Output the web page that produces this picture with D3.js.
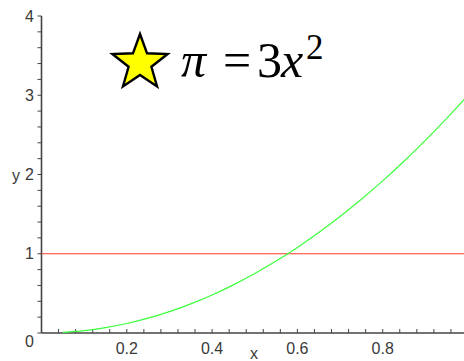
<!DOCTYPE html>
<html>
<head>
<meta charset="utf-8">
<script src="https://cdn.jsdelivr.net/npm/d3@7"></script>
<style>
  html, body { margin: 0; padding: 0; background: #fff; }
  svg { display: block; }
  .tick-label { font-family: "Liberation Sans", Arial, sans-serif; font-size: 16px; fill: #3a3a3a; }
  .eq { font-family: "Liberation Serif", "Times New Roman", serif; fill: #000; }
</style>
</head>
<body>
<svg id="chart" width="464" height="361"></svg>
<script>
// Curve y = 3x^2 sampled along x, plus the horizontal reference y = 1
const curveX = [0.05, 0.1, 0.15, 0.2, 0.25, 0.3, 0.35, 0.4, 0.45, 0.5, 0.55, 0.6, 0.65, 0.7, 0.75, 0.8, 0.85, 0.9, 0.95, 1.0];
const curveY = [0.0075, 0.03, 0.0675, 0.12, 0.1875, 0.27, 0.3675, 0.48, 0.6075, 0.75, 0.9075, 1.08, 1.2675, 1.47, 1.6875, 1.92, 2.1675, 2.43, 2.7075, 3.0];
const refLineY = [1];
const xTickLabels = [0.2, 0.4, 0.6, 0.8];
const yTickLabels = [0, 1, 2, 3, 4];

const svg = d3.select("#chart");
const x = d3.scaleLinear().domain([0, 1]).range([41.5, 468]);
const y = d3.scaleLinear().domain([0, 4]).range([333, 16]);

const axisColor = "#444";

// Y axis line with major/minor ticks on the left
const gy = svg.append("g");
gy.append("line").attr("x1", x(0)).attr("x2", x(0)).attr("y1", y(0)).attr("y2", y(4))
  .attr("stroke", axisColor).attr("stroke-width", 1.6);
const yMinor = d3.range(0, 4.0001, 0.2);
gy.selectAll("line.minor").data(yMinor).enter().append("line")
  .attr("x1", x(0) - 4).attr("x2", x(0))
  .attr("y1", d => y(d)).attr("y2", d => y(d))
  .attr("stroke", axisColor).attr("stroke-width", 1);
gy.selectAll("text").data(yTickLabels).enter().append("text")
  .attr("class", "tick-label")
  .attr("x", 34).attr("y", d => y(d) + (d === 0 ? 8 : 0))
  .attr("text-anchor", "end").attr("dominant-baseline", "central")
  .text(d => d);
svg.append("text").attr("class", "tick-label")
  .attr("x", 16).attr("y", y(2) + 1).attr("text-anchor", "middle")
  .attr("dominant-baseline", "central").text("y");

// X axis line with ticks pointing up
const gx = svg.append("g");
gx.append("line").attr("x1", x(0)).attr("x2", 464).attr("y1", y(0)).attr("y2", y(0))
  .attr("stroke", axisColor).attr("stroke-width", 1.6);
const xMinor = d3.range(0.04, 1.0001, 0.04);
gx.selectAll("line.minor").data(xMinor).enter().append("line")
  .attr("x1", d => x(d)).attr("x2", d => x(d))
  .attr("y1", y(0) - 4).attr("y2", y(0))
  .attr("stroke", axisColor).attr("stroke-width", 1);
gx.selectAll("text").data(xTickLabels).enter().append("text")
  .attr("class", "tick-label")
  .attr("x", d => x(d)).attr("y", 348)
  .attr("text-anchor", "middle").attr("dominant-baseline", "central")
  .text(d => d);
svg.append("text").attr("class", "tick-label")
  .attr("x", 254).attr("y", 353).attr("text-anchor", "middle")
  .attr("dominant-baseline", "central").text("x");

// Reference line y = 1
svg.selectAll("line.ref").data(refLineY).enter().append("line")
  .attr("x1", x(0)).attr("x2", 464)
  .attr("y1", d => y(d)).attr("y2", d => y(d))
  .attr("stroke", "#ff3b2a").attr("stroke-width", 1.2);

// Parabola
const line = d3.line().x(d => x(d[0])).y(d => y(d[1])).curve(d3.curveMonotoneX);
svg.append("path").datum(d3.zip(curveX, curveY))
  .attr("d", line).attr("fill", "none")
  .attr("stroke", "#3cff3c").attr("stroke-width", 1.2);

// Title: five-point star and the equation
const outerR = 29, innerR = 12;
const starPts = d3.range(10).map(i => [i * Math.PI / 5, i % 2 ? innerR : outerR]);
const starPath = d3.lineRadial().curve(d3.curveLinearClosed)(starPts);
svg.append("path").attr("d", starPath)
  .attr("transform", "translate(140,63)")
  .attr("fill", "#ffff00").attr("stroke", "#000").attr("stroke-width", 2.4)
  .attr("stroke-linejoin", "miter");

const eq = svg.append("g").attr("class", "eq");
eq.append("text").attr("x", 181).attr("y", 77).attr("font-size", 50)
  .attr("font-style", "italic").text("π");
eq.append("text").attr("x", 223).attr("y", 77).attr("font-size", 50).text("=");
eq.append("text").attr("x", 257).attr("y", 77).attr("font-size", 50).text("3");
eq.append("text").attr("x", 281).attr("y", 77).attr("font-size", 50)
  .attr("font-style", "italic").text("x");
eq.append("text").attr("x", 306).attr("y", 59).attr("font-size", 35).text("2");
</script>
</body>
</html>
